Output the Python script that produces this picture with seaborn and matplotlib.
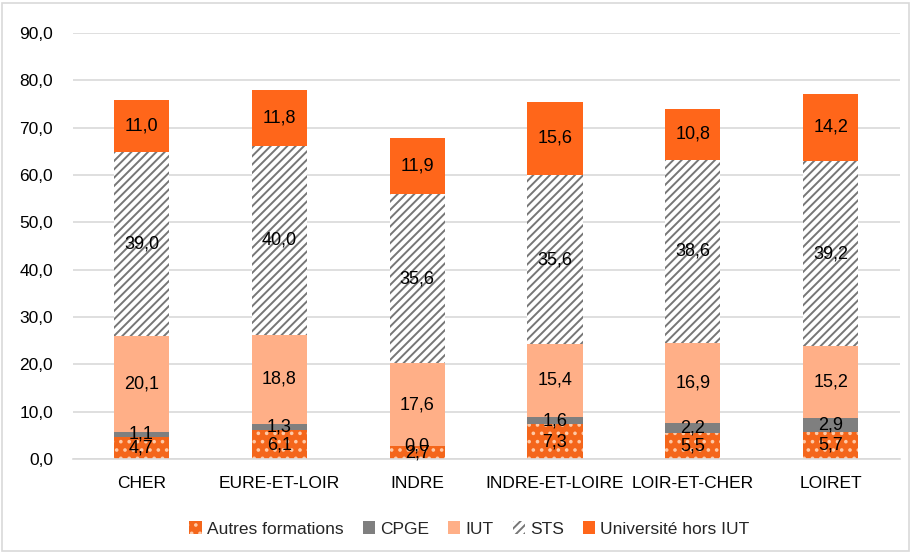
import matplotlib
matplotlib.use("Agg")
import matplotlib.pyplot as plt
import numpy as np
import pandas as pd
import seaborn as sns
from matplotlib.patches import Rectangle

# Donnees (taux en %)
departements = ["CHER", "EURE-ET-LOIR", "INDRE", "INDRE-ET-LOIRE",
                "LOIR-ET-CHER", "LOIRET"]
autres = [4.7, 6.1, 2.7, 7.3, 5.5, 5.7]
cpge = [1.1, 1.3, 0.0, 1.6, 2.2, 2.9]
iut = [20.1, 18.8, 17.6, 15.4, 16.9, 15.2]
sts = [39.0, 40.0, 35.6, 35.6, 38.6, 39.2]
univ = [11.0, 11.8, 11.9, 15.6, 10.8, 14.2]

series = ["Autres formations", "CPGE", "IUT", "STS", "Université hors IUT"]
values = [autres, cpge, iut, sts, univ]
yticks = np.arange(0, 100, 10)

STYLE = {
    "Autres formations": dict(color="#F4661B", hatch="..", edgecolor="#FFC9A6"),
    "CPGE": dict(color="#7F7F7F", hatch=None),
    "IUT": dict(color="#FFAF87", hatch=None),
    "STS": dict(color="white", hatch="////", edgecolor="#767676"),
    "Université hors IUT": dict(color="#FF661A", hatch=None),
}

sns.set_theme(style="white")
plt.rcParams["font.family"] = ["Liberation Sans", "DejaVu Sans"]
plt.rcParams["hatch.linewidth"] = 1.4

df = pd.DataFrame({"dep": departements})
for name, vals in zip(series, values):
    df[name] = vals

fig = plt.figure(figsize=(9.11, 5.53), dpi=100)
ax = fig.add_axes([0.0796, 0.17, 0.9078, 0.7705])

bottom = np.zeros(len(departements))
for name in series:
    st = STYLE[name]
    n_before = len(ax.patches)
    sns.barplot(data=df, x="dep", y=name, order=departements, ax=ax,
                color=st["color"], width=0.4, bottom=bottom,
                saturation=1, linewidth=0, label=name)
    for b in ax.patches[n_before:]:
        b.set_facecolor(st["color"])
        if st["hatch"]:
            b.set_hatch(st["hatch"])
            b.set_edgecolor(st["edgecolor"])
            b.set_linewidth(0)
    ax.bar_label(ax.containers[-1],
                 labels=[f"{v:.1f}".replace(".", ",") for v in df[name]],
                 label_type="center", fontsize=13, color="black")
    bottom = bottom + df[name].values

ax.set_ylim(0, 90)
ax.set_xlim(-0.5, len(departements) - 0.5)
ax.set_yticks(yticks)
ax.set_yticklabels([f"{v:.1f}".replace(".", ",") for v in yticks])
ax.yaxis.grid(True, color="#D9D9D9", linewidth=1.2)
ax.set_axisbelow(True)
for s in ["top", "right", "left"]:
    ax.spines[s].set_visible(False)
ax.spines["bottom"].set_color("#D9D9D9")
ax.spines["bottom"].set_linewidth(1.2)
ax.tick_params(axis="y", length=0, pad=14, labelsize=12.5, colors="black")
ax.tick_params(axis="x", length=0, pad=12, labelsize=12.5, colors="black")
ax.set_xlabel("")
ax.set_ylabel("")

ax.legend(loc="upper center", bbox_to_anchor=(0.48, -0.11), ncol=5,
          frameon=False, fontsize=12.5, handlelength=0.7, handleheight=0.7,
          handletextpad=0.3, columnspacing=1.1)

fig.patches.append(Rectangle((0.002, 0.003), 0.996, 0.992, transform=fig.transFigure,
                             fill=False, edgecolor="#D9D9D9", linewidth=1.2))

fig.savefig("out.png", dpi=100)
